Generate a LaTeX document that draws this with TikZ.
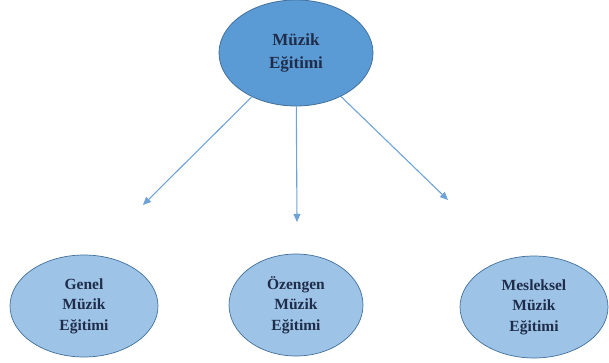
\documentclass[tikz,border=0pt]{standalone}
\usepackage{fontspec}
\setmainfont{Liberation Serif}
\usetikzlibrary{shapes.geometric,arrows.meta}
\definecolor{topfill}{HTML}{5B9BD5}
\definecolor{subfill}{HTML}{9DC3E6}
\definecolor{edgeblue}{HTML}{41719C}
\definecolor{txtblue}{HTML}{1F2D4A}
\definecolor{arrowblue}{HTML}{6FA3D8}
\tikzset{
  topnode/.style={ellipse,draw=edgeblue,line width=0.8pt,fill=topfill,inner sep=0pt,
    minimum width=154pt,minimum height=106pt,align=center,text=txtblue,
    font=\fontsize{17}{23}\selectfont\bfseries},
  subnode/.style={ellipse,draw=edgeblue,line width=0.7pt,fill=subfill,inner sep=0pt,
    minimum height=102pt,align=center,text=txtblue,
    font=\fontsize{15.5}{20.5}\selectfont\bfseries},
  link/.style={draw=arrowblue,line width=1.1pt,-{Triangle[length=8pt,width=7pt]}}
}
\begin{document}
\begin{tikzpicture}[x=1pt,y=-1pt]
\useasboundingbox (0,0) rectangle (609,363);
\node[topnode] (top) at (296,53) {Müzik\\Eğitimi};
\node[subnode,minimum width=148pt] (genel) at (84,306) {Genel\\Müzik\\Eğitimi};
\node[subnode,minimum width=134pt] (ozengen) at (296,305) {Özengen\\Müzik\\Eğitimi};
\node[subnode,minimum width=148pt] (meslek) at (534,307) {Mesleksel\\Müzik\\Eğitimi};
\coordinate (e1) at (143,205);
\coordinate (e2) at (297,222);
\coordinate (e3) at (448,200);
\draw[link] (top) -- (e1);
\draw[link] (top) -- (e2);
\draw[link] (top) -- (e3);
\end{tikzpicture}
\end{document}
